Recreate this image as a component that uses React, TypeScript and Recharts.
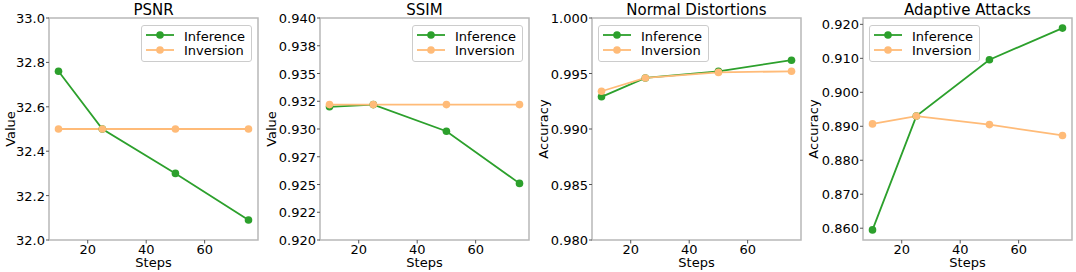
import { LineChart, Line, XAxis, YAxis, Legend, ReferenceArea } from "recharts";

const steps = [10, 25, 50, 75];
const stepTicks = [20, 40, 60];

const psnrInference = [32.76, 32.5, 32.3, 32.09];
const psnrInversion = [32.5, 32.5, 32.5, 32.5];
const psnrTicks = [32.0, 32.2, 32.4, 32.6, 32.8, 33.0];
const psnrTickLabels = ["32.0", "32.2", "32.4", "32.6", "32.8", "33.0"];

const ssimInference = [0.932, 0.9322, 0.9298, 0.9251];
const ssimInversion = [0.9322, 0.9322, 0.9322, 0.9322];
const ssimTicks = [0.92, 0.9225, 0.925, 0.9275, 0.93, 0.9325, 0.935, 0.9375, 0.94];
const ssimTickLabels = ["0.920", "0.922", "0.925", "0.927", "0.930", "0.932", "0.935", "0.938", "0.940"];

const normalInference = [0.9929, 0.9946, 0.9952, 0.9962];
const normalInversion = [0.9934, 0.9946, 0.9951, 0.9952];
const normalTicks = [0.98, 0.985, 0.99, 0.995, 1.0];
const normalTickLabels = ["0.980", "0.985", "0.990", "0.995", "1.000"];

const adaptiveInference = [0.8595, 0.893, 0.9096, 0.9189];
const adaptiveInversion = [0.8907, 0.893, 0.8905, 0.8873];
const adaptiveTicks = [0.86, 0.87, 0.88, 0.89, 0.9, 0.91, 0.92];
const adaptiveTickLabels = ["0.860", "0.870", "0.880", "0.890", "0.900", "0.910", "0.920"];

const FONT = "'DejaVu Sans', sans-serif";
const GREEN = "#2ca02c";
const ORANGE = "#ffbb78";
const SPINE = "#b8b8b8";
const TICK = "#555";

const H = 272;
const AXIS_W = 60;
const BOX_W = 209;
const CHART_W = AXIS_W + BOX_W + 3;
const BOX_TOP = 18;
const BOX_BOTTOM = 240;

// matplotlib-style 5% margins
const pad = (lo: number, hi: number): [number, number] => {
  const m = (hi - lo) * 0.05;
  return [lo - m, hi + m];
};
const xDomain = pad(Math.min(...steps), Math.max(...steps));

type PanelProps = {
  title: string;
  yLabel: string;
  inference: number[];
  inversion: number[];
  ticks: number[];
  tickLabels: string[];
  yDomain: [number, number];
  boxLeft: number;
  legendSide: "left" | "right";
  yLabelX: number;
};

function Panel(p: PanelProps) {
  const data = steps.map((s, i) => ({
    step: s,
    inference: p.inference[i],
    inversion: p.inversion[i],
  }));
  const cx = AXIS_W + BOX_W / 2;
  const legendLeft = p.legendSide === "right" ? AXIS_W + BOX_W - 6.5 - 111 : AXIS_W + 6;

  const yTick = (props: any) => {
    const v = props.payload.value;
    const idx = p.ticks.findIndex((t) => Math.abs(t - v) < 1e-9);
    return (
      <text x={props.x} y={props.y + 5} textAnchor="end" fontSize={13} fill="#000" fontFamily={FONT}>
        {idx >= 0 ? p.tickLabels[idx] : v}
      </text>
    );
  };
  const xTick = (props: any) => (
    <text x={props.x} y={props.y + 10} textAnchor="middle" fontSize={13} fill="#000" fontFamily={FONT}>
      {props.payload.value}
    </text>
  );

  const renderLegend = (props: any) => {
    const items = props.payload || [];
    return (
      <svg width={111} height={37} style={{ display: "block" }}>
        <rect x={0.5} y={0.5} width={110} height={36} rx={2.5} fill="#fff" fillOpacity={0.8} stroke="#cccccc" />
        {items.map((it: any, i: number) => (
          <g key={it.value}>
            <line x1={5} x2={33} y1={10 + i * 15} y2={10 + i * 15} stroke={it.color} strokeWidth={1.8} />
            <circle cx={19} cy={10 + i * 15} r={3.8} fill={it.color} />
            <text x={43} y={15.7 + i * 14.5} fontSize={13} fill="#000" fontFamily={FONT}>
              {it.value}
            </text>
          </g>
        ))}
      </svg>
    );
  };

  return (
    <div style={{ position: "absolute", left: p.boxLeft - AXIS_W, top: 0, width: CHART_W, height: H }}>
      <LineChart width={CHART_W} height={H} data={data} margin={{ top: BOX_TOP, right: 3, bottom: 0, left: 0 }}>
        <ReferenceArea
          x1={xDomain[0]}
          x2={xDomain[1]}
          y1={p.yDomain[0]}
          y2={p.yDomain[1]}
          fill="none"
          fillOpacity={0}
          stroke={SPINE}
          strokeWidth={1.5}
          ifOverflow="visible"
        />
        <XAxis
          type="number"
          dataKey="step"
          domain={xDomain}
          ticks={stepTicks}
          allowDataOverflow
          interval={0}
          height={H - BOX_BOTTOM}
          tickSize={3.5}
          tickMargin={0}
          axisLine={false}
          tickLine={{ stroke: TICK }}
          tick={xTick}
          label={{
            content: () => (
              <text x={cx} y={267} textAnchor="middle" fontSize={13} fill="#000" fontFamily={FONT}>
                Steps
              </text>
            ),
          }}
        />
        <YAxis
          type="number"
          domain={p.yDomain}
          ticks={p.ticks}
          allowDataOverflow
          interval={0}
          width={AXIS_W}
          tickSize={3}
          tickMargin={1}
          axisLine={false}
          tickLine={{ stroke: TICK }}
          tick={yTick}
          label={{
            content: () => (
              <text
                transform={`translate(${p.yLabelX},129) rotate(-90)`}
                textAnchor="middle"
                fontSize={13}
                fill="#000"
                fontFamily={FONT}
              >
                {p.yLabel}
              </text>
            ),
          }}
        />
        <Legend
          layout="horizontal"
          verticalAlign="middle"
          align="center"
          content={renderLegend}
          wrapperStyle={{ left: legendLeft, top: 25, width: 111, height: 37, lineHeight: 0 }}
        />
        <Line
          type="linear"
          dataKey="inference"
          name="Inference"
          stroke={GREEN}
          strokeWidth={1.8}
          dot={{ r: 3.8, fill: GREEN, stroke: GREEN, strokeWidth: 0 }}
          activeDot={false}
          isAnimationActive={false}
        />
        <Line
          type="linear"
          dataKey="inversion"
          name="Inversion"
          stroke={ORANGE}
          strokeWidth={1.8}
          dot={{ r: 3.8, fill: ORANGE, stroke: ORANGE, strokeWidth: 0 }}
          activeDot={false}
          isAnimationActive={false}
        />
      </LineChart>
      <svg width={CHART_W} height={20} style={{ position: "absolute", left: 0, top: 0 }}>
        <text x={cx} y={15} textAnchor="middle" fontSize={15} fill="#000" fontFamily={FONT}>
          {p.title}
        </text>
      </svg>
    </div>
  );
}

export default function App() {
  const adaptiveAll = [...adaptiveInference, ...adaptiveInversion];
  const adaptiveDomain = pad(Math.min(...adaptiveAll), Math.max(...adaptiveAll));
  return (
    <div
      style={{
        position: "absolute",
        left: 0,
        top: 0,
        width: 1076,
        height: H,
        overflow: "hidden",
        background: "#fff",
        fontFamily: FONT,
      }}
    >
      <Panel
        title="PSNR"
        yLabel="Value"
        inference={psnrInference}
        inversion={psnrInversion}
        ticks={psnrTicks}
        tickLabels={psnrTickLabels}
        yDomain={[32.0, 33.0]}
        boxLeft={49}
        legendSide="right"
        yLabelX={26}
      />
      <Panel
        title="SSIM"
        yLabel="Value"
        inference={ssimInference}
        inversion={ssimInversion}
        ticks={ssimTicks}
        tickLabels={ssimTickLabels}
        yDomain={[0.92, 0.94]}
        boxLeft={320}
        legendSide="right"
        yLabelX={16}
      />
      <Panel
        title="Normal Distortions"
        yLabel="Accuracy"
        inference={normalInference}
        inversion={normalInversion}
        ticks={normalTicks}
        tickLabels={normalTickLabels}
        yDomain={[0.98, 1.0]}
        boxLeft={592}
        legendSide="left"
        yLabelX={15.5}
      />
      <Panel
        title="Adaptive Attacks"
        yLabel="Accuracy"
        inference={adaptiveInference}
        inversion={adaptiveInversion}
        ticks={adaptiveTicks}
        tickLabels={adaptiveTickLabels}
        yDomain={adaptiveDomain}
        boxLeft={863}
        legendSide="left"
        yLabelX={14.5}
      />
    </div>
  );
}
